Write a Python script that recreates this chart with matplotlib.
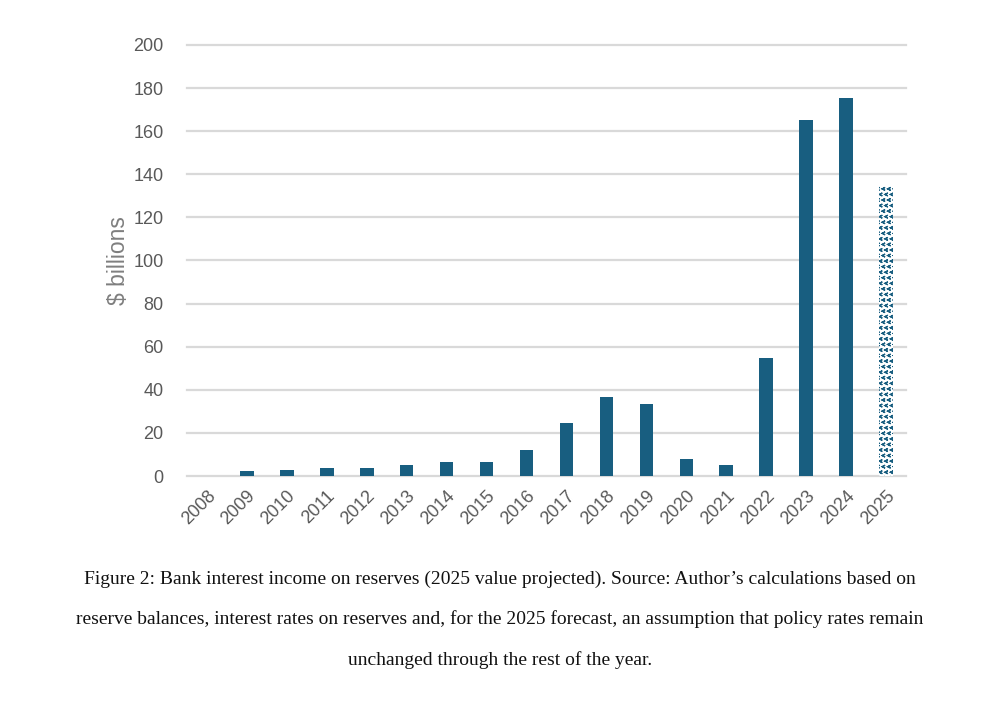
import numpy as np
import matplotlib
matplotlib.use("Agg")
import matplotlib.pyplot as plt
from matplotlib import hatch as mhatch
from matplotlib.path import Path

# ---- data ----
years = ["2008", "2009", "2010", "2011", "2012", "2013", "2014", "2015", "2016",
         "2017", "2018", "2019", "2020", "2021", "2022", "2023", "2024"]
income = [0, 2.5, 3.0, 3.9, 3.9, 5.0, 6.6, 6.6, 12.0,
          24.6, 36.7, 33.4, 7.9, 5.1, 54.8, 165.2, 175.4]
proj_year = ["2025"]
proj_income = [134.5]
yticks = [0, 20, 40, 60, 80, 100, 120, 140, 160, 180, 200]
caption = [
    "Figure 2: Bank interest income on reserves (2025 value projected). Source: Author\u2019s calculations based on",
    "reserve balances, interest rates on reserves and, for the 2025 forecast, an assumption that policy rates remain",
    "unchanged through the rest of the year.",
]

# ---- custom chevron hatch (replaces the '*' star hatch) ----
class Chevrons(mhatch.Shapes):
    filled = False
    size = 0.45

    def __init__(self, hatch, density):
        self.num_rows = (hatch.count('*')) * density
        self.shape_vertices = np.array([[0.5, 0.5], [-0.5, 0.0], [0.5, -0.5]])
        self.shape_codes = np.array([Path.MOVETO, Path.LINETO, Path.LINETO],
                                    dtype=Path.code_type)
        super().__init__(hatch, density)

mhatch._hatch_types = [Chevrons if t is mhatch.Stars else t
                       for t in mhatch._hatch_types]

BLUE = "#185e80"
GRID = "#d9d9d9"
TICK = "#595959"

fig = plt.figure(figsize=(10, 7.07), dpi=100)
ax = fig.add_axes([0.187, 0.3267, 0.719, 0.6097])

x = np.arange(len(years))
ax.bar(x, income, width=0.34, color=BLUE, zorder=3)
xp = np.arange(len(years), len(years) + len(proj_year))
plt.rcParams['hatch.color'] = BLUE
plt.rcParams['hatch.linewidth'] = 0.9
ax.bar(xp, proj_income, width=0.34, facecolor="white", edgecolor=BLUE,
       linewidth=0, hatch="***", zorder=3)

ax.set_xlim(-0.5, len(years) + len(proj_year) - 0.5)
ax.set_ylim(0, 200)
ax.set_yticks(yticks)
ax.yaxis.grid(True, color=GRID, linewidth=1.6, zorder=0)
for gl in ax.get_ygridlines():
    gl.set_clip_on(False)
ax.set_axisbelow(True)
for s in ax.spines.values():
    s.set_visible(False)
ax.tick_params(axis='both', length=0)
ax.tick_params(axis='y', pad=17)
ax.set_yticklabels([str(v) for v in yticks], fontsize=13, color=TICK,
                   family="Liberation Sans")
ax.set_xticks(list(x) + list(xp))
ax.set_xticklabels(years + proj_year, rotation=45, ha='right',
                   rotation_mode='anchor', fontsize=13, color=TICK,
                   family="Liberation Sans")
ax.tick_params(axis='x', pad=8)
ax.set_ylabel("$ billions", fontsize=16.5, color="#7f7f7f",
              family="Liberation Sans", labelpad=2)

ys = [0.181, 0.125, 0.067]
for line, yy in zip(caption, ys):
    fig.text(0.5, yy, line, ha='center', va='center', fontsize=14,
             family="Liberation Serif", color="#111111")

fig.savefig("out.png", dpi=100, facecolor="white")
